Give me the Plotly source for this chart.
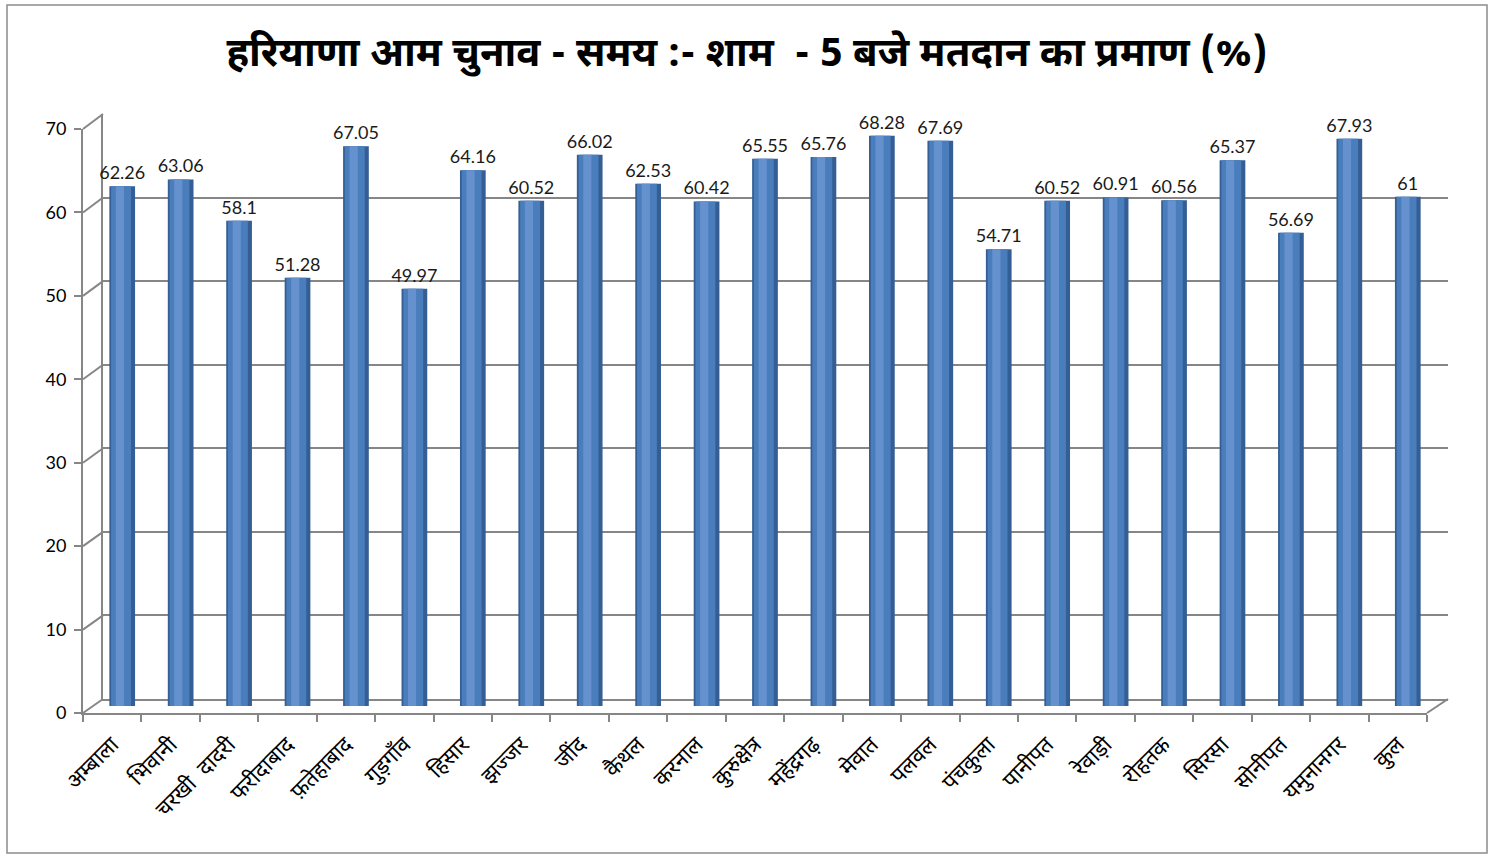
import plotly.graph_objects as go

categories = ["अम्बाला", "भिवानी", "चरखी  दादरी", "फरीदाबाद", "फ़तेहाबाद", "गुड़गाँव", "हिसार",
              "झज्जर", "जींद", "कैथल", "करनाल", "कुरुक्षेत्र", "महेंद्रगढ़", "मेवात", "पलवल",
              "पंचकुला", "पानीपत", "रेवाड़ी", "रोहतक", "सिरसा", "सोनीपत", "यमुनानगर", "कुल"]
turnout = [62.26, 63.06, 58.1, 51.28, 67.05, 49.97, 64.16, 60.52, 66.02, 62.53, 60.42, 65.55,
           65.76, 68.28, 67.69, 54.71, 60.52, 60.91, 60.56, 65.37, 56.69, 67.93, 61]
y_ticks = [0, 10, 20, 30, 40, 50, 60, 70]
title_text = "हरियाणा आम चुनाव - समय :- शाम  - 5 बजे मतदान का प्रमाण (%)"

W, H = 1494, 859
FONT = "Noto Sans Devanagari, Lohit Devanagari, Mangal, Noto Sans, sans-serif"
NUMFONT = "Lato, Open Sans, sans-serif"
GRID = "#868686"

def px(x):
    return x / W

def py(y):
    return 1 - y / H

# pixel geometry of the pseudo-3D frame
front_x = (83, 1427)
front_y = (713, 129)     # 0 -> 70
back_x = (103, 1448)
back_y = (699, 114)
mid_x = (93, 1437)
mid_y = (706, 121.5)

fig = go.Figure()

# invisible traces so the front axes and back wall subplots get drawn
fig.add_trace(go.Scatter(x=categories, y=[None] * len(categories), xaxis="x", yaxis="y",
                         mode="markers", hoverinfo="skip", showlegend=False))
fig.add_trace(go.Scatter(x=[0, 1], y=[None, None], xaxis="x2", yaxis="y2",
                         mode="markers", hoverinfo="skip", showlegend=False))

# cylinder-ish bars: dark body, lighter core, highlight
fig.add_trace(go.Bar(x=categories, y=turnout, xaxis="x3", yaxis="y3", width=0.44,
                     marker=dict(color="#345E94", line=dict(width=0)),
                     text=turnout, texttemplate="%{y}", textposition="outside",
                     constraintext="none",
                     textfont=dict(family=NUMFONT, size=18, color="#1a1a1a"),
                     cliponaxis=False, hoverinfo="x+y"))
fig.add_trace(go.Bar(x=categories, y=turnout, xaxis="x3", yaxis="y3", width=0.34, offset=-0.19,
                     marker=dict(color="#4A7DBB", line=dict(width=0)), hoverinfo="skip"))
fig.add_trace(go.Bar(x=categories, y=turnout, xaxis="x3", yaxis="y3", width=0.14, offset=-0.11,
                     marker=dict(color="#6592CF", line=dict(width=0)), hoverinfo="skip"))

fig.update_layout(
    width=W, height=H,
    margin=dict(l=0, r=0, t=0, b=0),
    paper_bgcolor="white", plot_bgcolor="rgba(0,0,0,0)",
    barmode="overlay", showlegend=False,
    title=dict(text=f"<b>{title_text}</b>", x=0.5, xanchor="center", y=py(52), yanchor="middle",
               font=dict(family=FONT, size=40, color="black")),
    # front axes (labels, floor front edge)
    xaxis=dict(domain=[px(front_x[0]), px(front_x[1])], type="category",
               categoryorder="array", categoryarray=categories, range=[-0.5, 22.5],
               showline=True, linecolor=GRID, linewidth=2, ticks="outside", tickson="boundaries",
               ticklen=7, tickcolor=GRID, tickwidth=2, tickangle=-45, showgrid=False,
               ticklabelstandoff=8,
               tickfont=dict(family=FONT, size=22, color="black"), automargin=False,
               anchor="y", fixedrange=True),
    yaxis=dict(domain=[py(front_y[0]), py(front_y[1])], range=[0, 70], tickvals=y_ticks,
               showline=True, linecolor=GRID, linewidth=2, ticks="outside", ticklen=7,
               tickcolor=GRID, tickwidth=2, showgrid=False, zeroline=False,
               ticklabelstandoff=4,
               tickfont=dict(family=NUMFONT, size=18, color="black"),
               automargin=False, anchor="x", fixedrange=True),
    # back wall
    xaxis2=dict(domain=[px(back_x[0]), px(back_x[1])], range=[0, 1], showline=True,
                linecolor=GRID, linewidth=2, showgrid=False, zeroline=False,
                showticklabels=False, ticks="", anchor="y2", fixedrange=True),
    yaxis2=dict(domain=[py(back_y[0]), py(back_y[1])], range=[0, 70], tickvals=y_ticks,
                showgrid=True, gridcolor=GRID, gridwidth=2, showline=True, linecolor=GRID,
                linewidth=2, zeroline=False, showticklabels=False, ticks="",
                anchor="x2", fixedrange=True),
    # bars (mid depth)
    xaxis3=dict(domain=[px(mid_x[0]), px(mid_x[1])], type="category",
                categoryorder="array", categoryarray=categories, range=[-0.5, 22.5],
                visible=False, anchor="y3", fixedrange=True),
    yaxis3=dict(domain=[py(mid_y[0]), py(mid_y[1])], range=[0, 70], visible=False,
                anchor="x3", fixedrange=True),
)

def lerp(a, b, t):
    return a + (b - a) * t

shapes = []
# side-wall diagonals at each gridline
for v in y_ticks:
    t = v / 70
    shapes.append(dict(type="line", xref="paper", yref="paper",
                       x0=px(front_x[0]), y0=py(lerp(front_y[0], front_y[1], t)),
                       x1=px(back_x[0]), y1=py(lerp(back_y[0], back_y[1], t)),
                       line=dict(color=GRID, width=2)))
# floor right diagonal
shapes.append(dict(type="line", xref="paper", yref="paper",
                   x0=px(front_x[1]), y0=py(front_y[0]), x1=px(back_x[1]), y1=py(back_y[0]),
                   line=dict(color=GRID, width=2)))
# outer chart border
shapes.append(dict(type="rect", xref="paper", yref="paper", x0=px(7), y0=py(853), x1=px(1487), y1=py(5),
                   line=dict(color="#8c8c8c", width=1.5), fillcolor="rgba(0,0,0,0)", layer="below"))
fig.update_layout(shapes=shapes)

fig.write_html("out.html", config={"displayModeBar": False},
               post_script="document.body.style.margin='0';")
